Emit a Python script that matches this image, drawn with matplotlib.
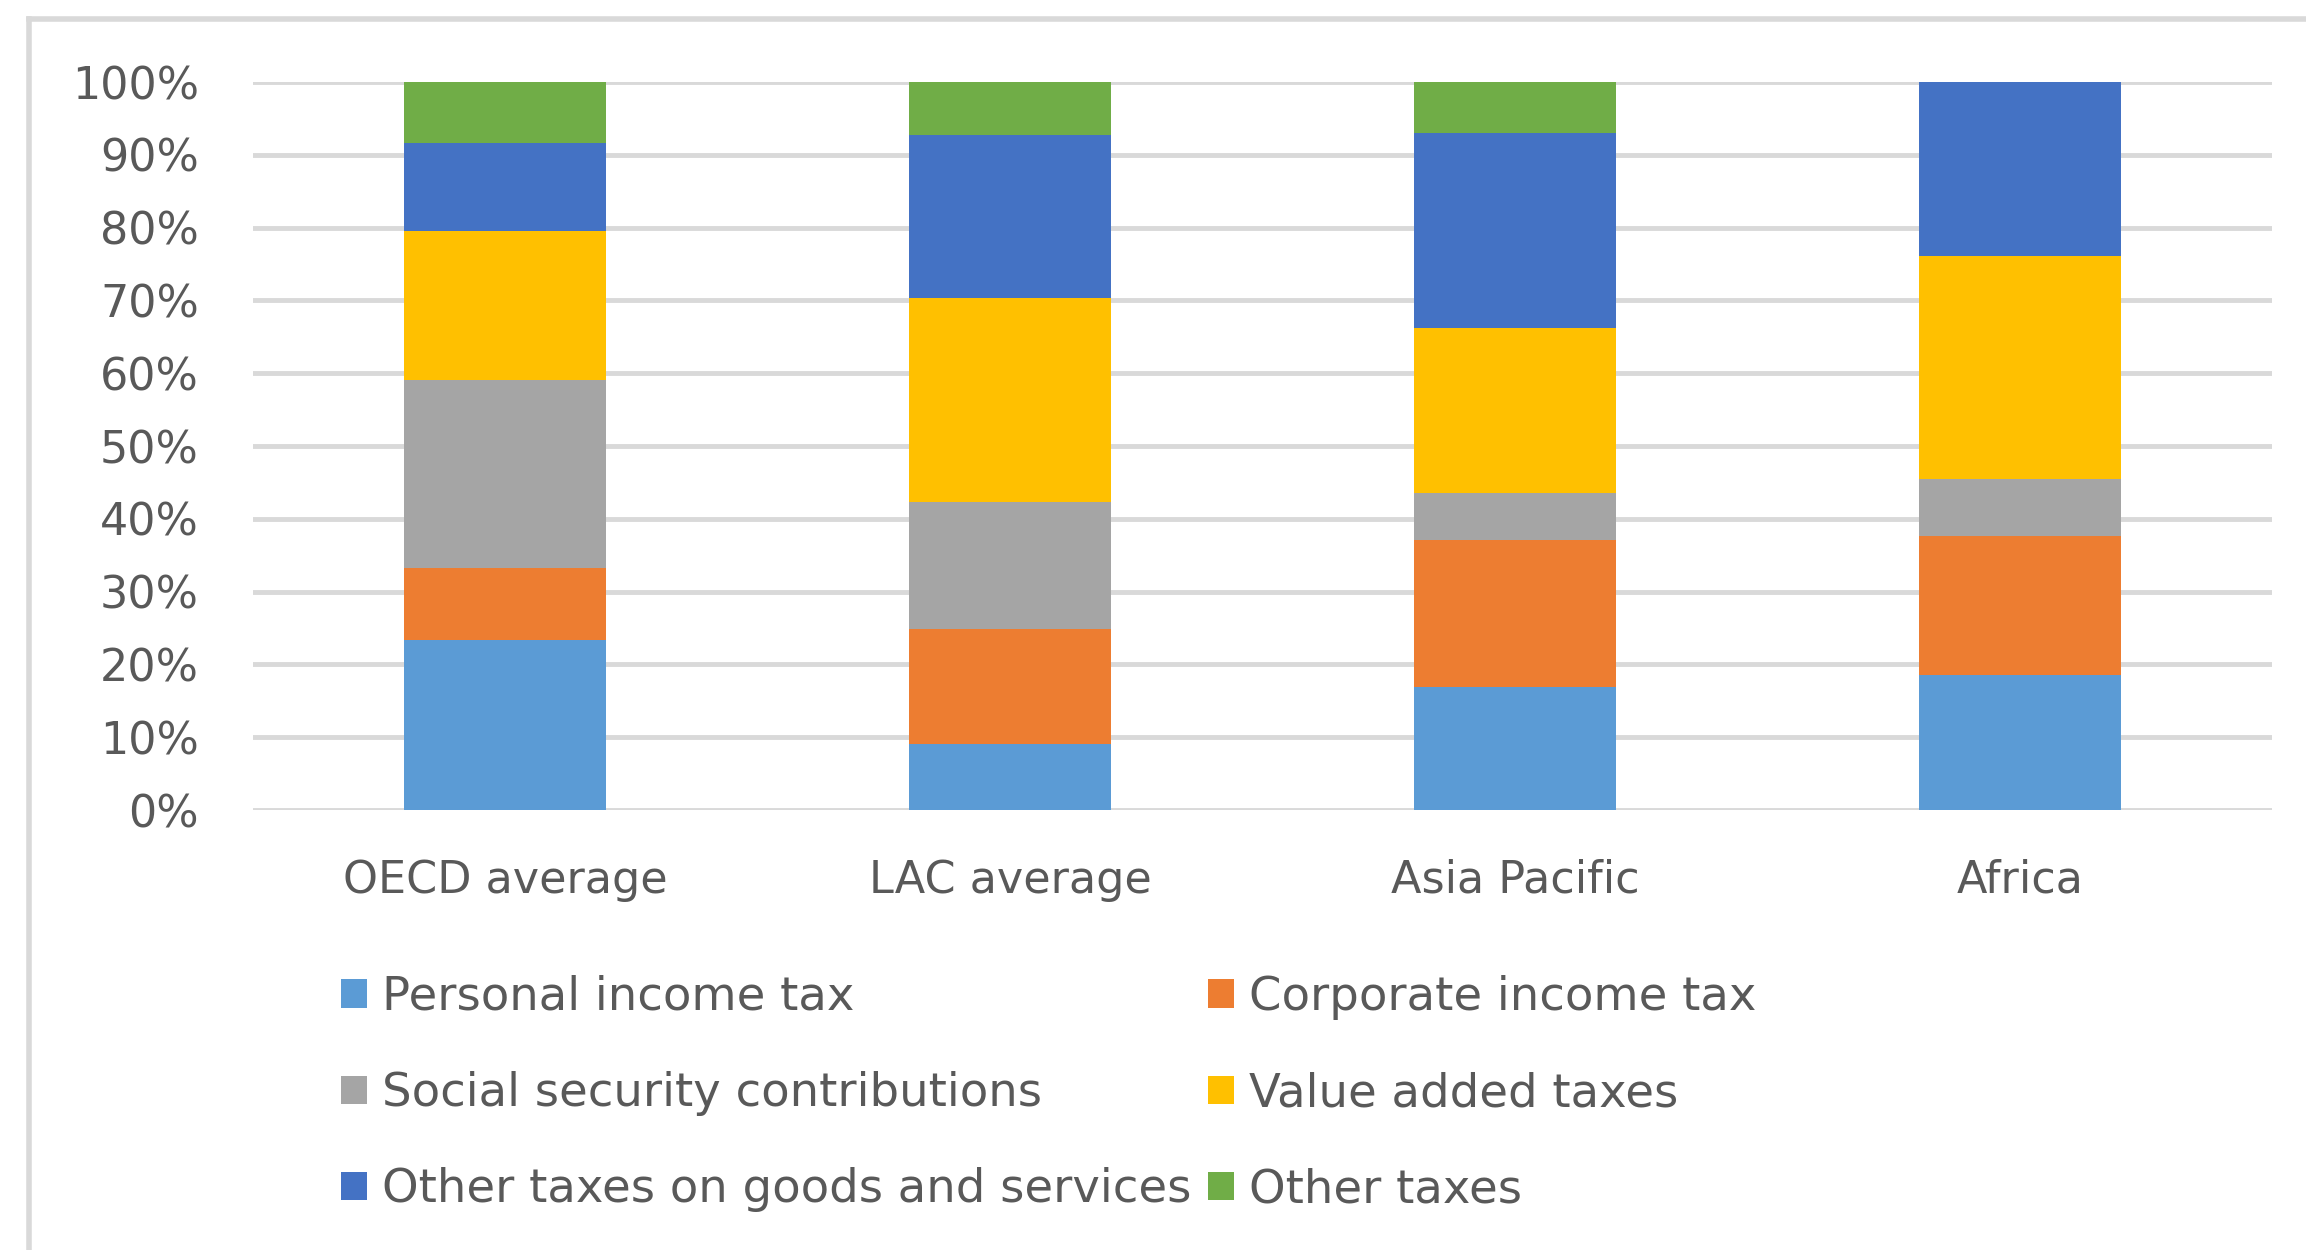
import matplotlib.pyplot as plt
from matplotlib.lines import Line2D
from matplotlib.patches import Patch
import numpy as np

regions = ['OECD average', 'LAC average', 'Asia Pacific', 'Africa']

# tax structure, share of total revenue in %
personal_income_tax = [23.4, 9.1, 16.9, 18.6]
corporate_income_tax = [9.8, 15.8, 20.2, 19.1]
social_security = [25.8, 17.4, 6.4, 7.7]
value_added_taxes = [20.5, 28.0, 22.7, 30.7]
other_goods_services = [12.1, 22.4, 26.8, 23.9]
other_taxes = [8.4, 7.3, 7.0, 0.0]

series = [
    ('Personal income tax', personal_income_tax, '#5B9BD5'),
    ('Corporate income tax', corporate_income_tax, '#ED7D31'),
    ('Social security contributions', social_security, '#A5A5A5'),
    ('Value added taxes', value_added_taxes, '#FFC000'),
    ('Other taxes on goods and services', other_goods_services, '#4472C4'),
    ('Other taxes', other_taxes, '#70AD47'),
]

TEXT_COLOR = '#595959'
GRID_COLOR = '#D9D9D9'
FONTSIZE = 32
LEGEND_FONTSIZE = 33.5

plt.rcParams['font.family'] = ['DejaVu Sans']

W, H = 2306, 1250
fig = plt.figure(figsize=(W / 100, H / 100), dpi=100)
ax = fig.add_axes([253 / W, 1 - 810 / H, (2272 - 253) / W, (810 - 82) / H])

x = np.arange(len(regions))
bottom = np.zeros(len(regions))
handles = []
for name, values, color in series:
    share = np.array(values) / 100.0
    ax.bar(x, share, width=0.40, bottom=bottom, color=color, zorder=2)
    bottom += share
    handles.append(Patch(facecolor=color, label=name))

ax.set_xlim(-0.5, len(regions) - 0.5)
ax.set_ylim(0, 1)
ax.set_yticks(np.arange(0, 1.01, 0.1))
ax.set_yticklabels(['%d%%' % round(v * 100) for v in np.arange(0, 1.01, 0.1)])
ax.set_xticks(x)
ax.set_xticklabels(regions)
ax.grid(axis='y', color=GRID_COLOR, linewidth=3.5, zorder=0)
ax.set_axisbelow(True)
for spine in ax.spines.values():
    spine.set_visible(False)
ax.tick_params(axis='y', length=0, pad=39, labelsize=FONTSIZE, labelcolor=TEXT_COLOR)
ax.tick_params(axis='x', length=0, pad=35, labelsize=FONTSIZE, labelcolor=TEXT_COLOR)

# legend rows: (PIT, CIT), (SSC, VAT), (other goods, other)
order = [0, 2, 4, 1, 3, 5]
leg = fig.legend([handles[i] for i in order], [handles[i].get_label() for i in order],
                 ncol=2, loc='upper left', bbox_to_anchor=(341 / W, 1 - 975 / H),
                 frameon=False, fontsize=LEGEND_FONTSIZE, borderpad=0, borderaxespad=0,
                 handlelength=0.555, handleheight=0.555, handletextpad=0.33,
                 labelspacing=1.10, columnspacing=0.36)
for t in leg.get_texts():
    t.set_color(TEXT_COLOR)

# outer chart border (left and top edges only)
fig.add_artist(Line2D([29 / W, 29 / W], [0, 1 - 19 / H], color=GRID_COLOR, linewidth=4,
                      transform=fig.transFigure))
fig.add_artist(Line2D([29 / W, 1], [1 - 19 / H, 1 - 19 / H], color=GRID_COLOR, linewidth=4,
                      transform=fig.transFigure))

plt.savefig('out.png', dpi=100)
